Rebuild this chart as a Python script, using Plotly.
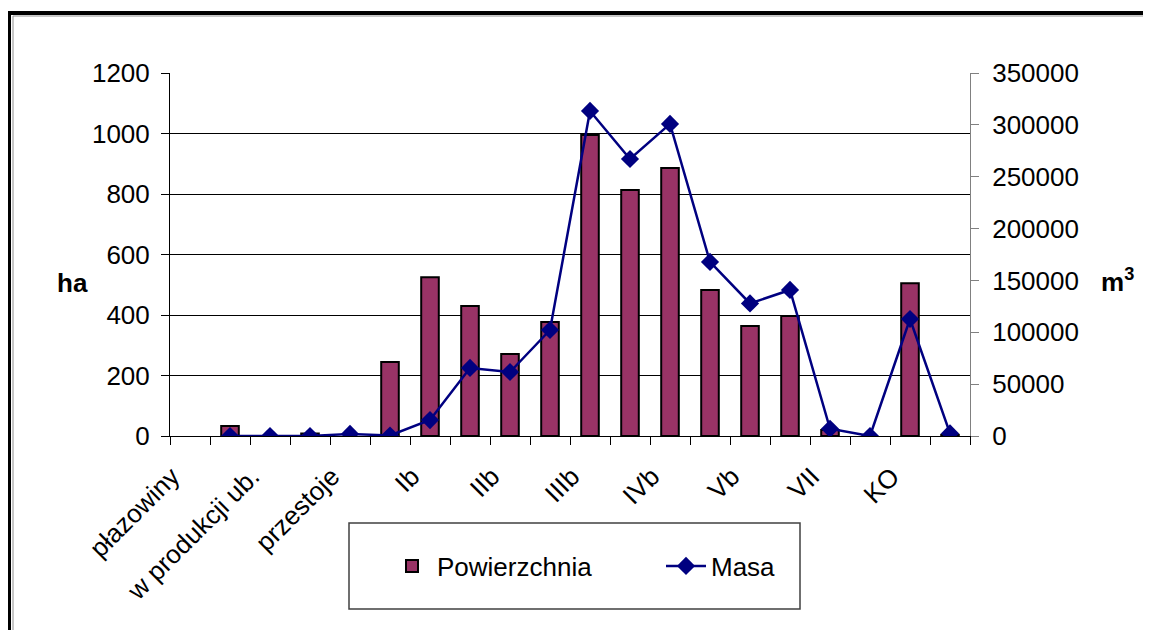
import plotly.graph_objects as go

# kategorie (co druga etykieta widoczna na osi, jak w oryginale)
kategorie = ["płazowiny", "halizny", "w produkcji ub.", "zręby", "przestoje",
             "Ia", "Ib", "IIa", "IIb", "IIIa", "IIIb", "IVa", "IVb", "Va", "Vb",
             "VI", "VII", "VIII", "KO", "KDO"]
powierzchnia = [None, 33, None, 8, None, 245, 525, 430, 271, 377, 995, 813, 886, 483, 364,
                397, 20, None, 505, 4]
masa = [None, 0, 0, 0, 2000, 500, 15400, 65600, 61700, 102200, 313400, 267100,
        300900, 167800, 127800, 140800, 7000, 0, 112800, 2500]

OFF = 8  # margines strony (body) w przeglądarce
W, H = 1151 - OFF, 630 - OFF
L, R, T, B = 170 - OFF, 970 - OFF, 73 - OFF, 436 - OFF  # obszar wykresu
FONT = "Liberation Sans, Arial, sans-serif"
FS = 26


def px_x(x):
    # x w pikselach strony -> współrzędne paper
    return (x - OFF - L) / (R - L)


def px_y(y):
    return (B - (y - OFF)) / (B - T)


x_idx = list(range(len(kategorie)))
# etykiety jak w Excelu: prawy górny róg tekstu przy środku kategorii
etykiety_poz = [i - 0.45 for i in x_idx[::2]]

fig = go.Figure()
fig.add_trace(go.Bar(
    x=x_idx, y=powierzchnia, name="Powierzchnia", width=0.44,
    marker=dict(color="#993366", line=dict(color="black", width=2))
))
fig.add_trace(go.Scatter(
    x=x_idx, y=masa, name="Masa", yaxis="y2", mode="lines+markers",
    line=dict(color="#000080", width=2.5),
    marker=dict(symbol="diamond", size=14, color="#000080")
))

fig.update_layout(
    width=W, height=H,
    margin=dict(l=L, r=W - R, t=T, b=H - B),
    paper_bgcolor="white", plot_bgcolor="white",
    font=dict(family=FONT, size=FS, color="black"),
    showlegend=True,
    legend=dict(orientation="h", x=px_x(387), y=px_y(566), xanchor="left", yanchor="middle",
                entrywidth=219, entrywidthmode="pixels", bgcolor="rgba(0,0,0,0)",
                font=dict(size=FS), itemwidth=40),
    xaxis=dict(
        range=[-0.5, 19.5], tickmode="array", tickvals=etykiety_poz, ticktext=kategorie[::2],
        tickangle=-45, ticks="", showgrid=False, zeroline=False,
        showline=True, linecolor="black", linewidth=1, ticklabelstandoff=14,
        minor=dict(tickmode="linear", tick0=-0.5, dtick=1, ticks="outside", ticklen=8,
                   tickcolor="black", showgrid=False)
    ),
    yaxis=dict(
        range=[0, 1200], dtick=200, showgrid=True, gridcolor="black", gridwidth=1,
        zeroline=False, showline=True, linecolor="black", linewidth=1,
        ticks="outside", ticklen=8, tickcolor="black", ticklabelstandoff=6
    ),
    yaxis2=dict(
        range=[0, 350000], dtick=50000, tickformat="d", overlaying="y", side="right",
        showgrid=False, zeroline=False, showline=True, linecolor="#808080", linewidth=1,
        ticks="outside", ticklen=8, tickcolor="#808080", ticklabelstandoff=8
    ),
    annotations=[
        dict(text="<b>ha</b>", x=px_x(72), y=px_y(283), xref="paper", yref="paper",
             xanchor="center", yanchor="middle", showarrow=False, font=dict(size=FS)),
        dict(text="<b>m<sup>3</sup></b>", x=px_x(1117), y=px_y(280), xref="paper", yref="paper",
             xanchor="center", yanchor="middle", showarrow=False, font=dict(size=FS)),
    ],
    shapes=[
        # ramka legendy
        dict(type="rect", xref="paper", yref="paper", x0=px_x(349), x1=px_x(800),
             y0=px_y(523), y1=px_y(609), line=dict(color="#404040", width=1.5)),
        # podwójna ramka obszaru wykresu
        dict(type="line", xref="paper", yref="paper", x0=px_x(9), x1=px_x(9),
             y0=px_y(11), y1=px_y(700), line=dict(color="black", width=4)),
        dict(type="line", xref="paper", yref="paper", x0=px_x(7), x1=px_x(1300),
             y0=px_y(13), y1=px_y(13), line=dict(color="black", width=4)),
        dict(type="line", xref="paper", yref="paper", x0=px_x(13), x1=px_x(13),
             y0=px_y(16), y1=px_y(700), line=dict(color="#909090", width=1)),
        dict(type="line", xref="paper", yref="paper", x0=px_x(13), x1=px_x(1300),
             y0=px_y(16), y1=px_y(16), line=dict(color="#909090", width=1)),
    ],
)

fig.write_html("out.html")
